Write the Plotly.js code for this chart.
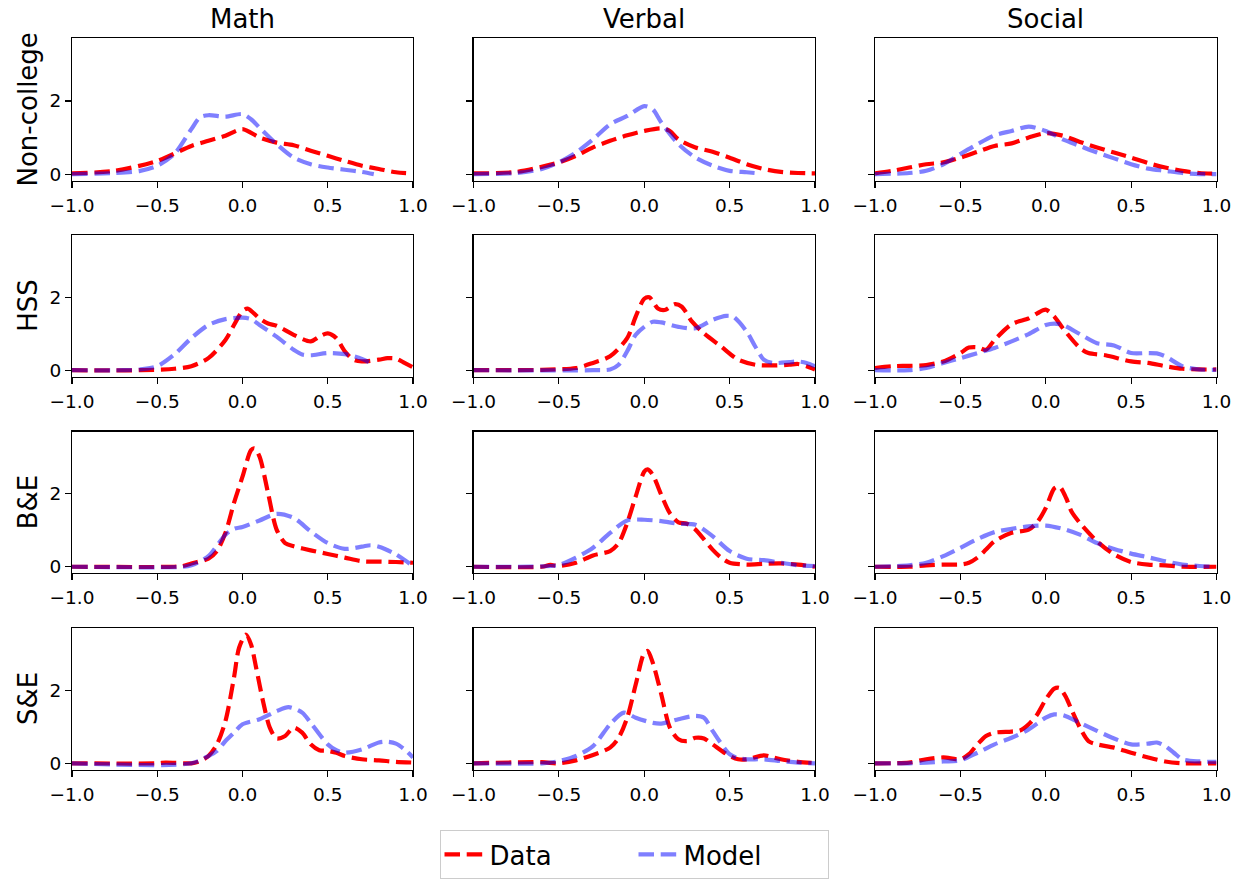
<!DOCTYPE html>
<html>
<head>
<meta charset="utf-8">
<script src="https://cdn.plot.ly/plotly-3.0.1.min.js"></script>
<style>html,body{margin:0;padding:0;background:#fff;}#chart{width:1243px;height:879px;}</style>
</head>
<body>
<div id="chart"></div>
<script>
// ---- labels ----
const columns = ['Math', 'Verbal', 'Social'];
const rows = ['Non-college', 'HSS', 'B&E', 'S&E'];
const seriesNames = ['Data', 'Model'];
const xTickVals = [-1, -0.5, 0, 0.5, 1];
const xTickText = ['−1.0', '−0.5', '0.0', '0.5', '1.0'];
const yTickVals = [0, 2];
const yTickText = ['0', '2'];

// ---- density curves, [x, density] pairs ----
const nonCollegeMathData = [[-1,0.02],[-0.75,0.09],[-0.5,0.36],[-0.3,0.77],[-0.2,0.91],[-0.1,1.05],[0,1.23],[0.1,1.0],[0.2,0.86],[0.3,0.79],[0.4,0.64],[0.5,0.5],[0.6,0.36],[0.7,0.23],[0.8,0.14],[0.9,0.05],[1,0.02]];
const nonCollegeMathModel = [[-1,0],[-0.75,0.03],[-0.6,0.09],[-0.5,0.23],[-0.4,0.55],[-0.3,1.23],[-0.25,1.55],[-0.2,1.61],[-0.1,1.57],[0,1.64],[0.05,1.5],[0.1,1.27],[0.2,0.82],[0.3,0.45],[0.4,0.27],[0.5,0.18],[0.6,0.12],[0.7,0.06],[0.77,0]];
const nonCollegeVerbalData = [[-1,0.02],[-0.75,0.06],[-0.5,0.32],[-0.4,0.5],[-0.3,0.73],[-0.2,0.91],[-0.1,1.06],[0,1.18],[0.1,1.25],[0.15,1.18],[0.2,0.95],[0.3,0.73],[0.4,0.61],[0.5,0.45],[0.6,0.27],[0.7,0.14],[0.8,0.06],[0.9,0.03],[1,0.02]];
const nonCollegeVerbalModel = [[-1,0],[-0.75,0.03],[-0.6,0.14],[-0.5,0.32],[-0.4,0.59],[-0.3,0.95],[-0.2,1.36],[-0.1,1.59],[0,1.86],[0.05,1.77],[0.1,1.41],[0.2,0.82],[0.3,0.45],[0.4,0.23],[0.5,0.09],[0.6,0.05],[0.67,0.02]];
const nonCollegeSocialData = [[-1,0.02],[-0.9,0.09],[-0.8,0.18],[-0.7,0.27],[-0.6,0.32],[-0.5,0.45],[-0.4,0.61],[-0.3,0.77],[-0.2,0.84],[-0.1,1.0],[0,1.12],[0.1,1.05],[0.2,0.88],[0.3,0.73],[0.4,0.59],[0.5,0.45],[0.6,0.3],[0.7,0.18],[0.8,0.09],[0.9,0.03],[1,0.01]];
const nonCollegeSocialModel = [[-1,0],[-0.8,0.03],[-0.7,0.09],[-0.6,0.27],[-0.5,0.55],[-0.4,0.82],[-0.3,1.06],[-0.2,1.18],[-0.1,1.3],[0,1.18],[0.1,0.95],[0.2,0.77],[0.3,0.59],[0.4,0.43],[0.5,0.27],[0.6,0.15],[0.7,0.09],[0.8,0.03],[0.9,0],[1,0]];

const hssMathData = [[-1,0],[-0.6,0],[-0.4,0.04],[-0.3,0.11],[-0.2,0.33],[-0.1,0.83],[-0.05,1.24],[0,1.62],[0.03,1.69],[0.1,1.42],[0.15,1.28],[0.2,1.22],[0.3,0.97],[0.4,0.79],[0.45,0.92],[0.5,1.01],[0.55,0.88],[0.6,0.52],[0.65,0.29],[0.7,0.24],[0.8,0.29],[0.85,0.33],[0.9,0.32],[0.95,0.2],[1,0.08]];
const hssMathModel = [[-1,0],[-0.7,0],[-0.6,0.02],[-0.5,0.11],[-0.4,0.43],[-0.3,0.88],[-0.2,1.24],[-0.1,1.4],[0,1.44],[0.05,1.4],[0.1,1.24],[0.2,0.92],[0.3,0.56],[0.35,0.43],[0.4,0.41],[0.5,0.47],[0.6,0.44],[0.7,0.31],[0.77,0.15]];
const hssVerbalData = [[-1,0],[-0.6,0.01],[-0.4,0.06],[-0.3,0.2],[-0.2,0.38],[-0.1,0.88],[-0.05,1.47],[0,1.96],[0.03,2.0],[0.08,1.69],[0.12,1.65],[0.18,1.81],[0.22,1.74],[0.28,1.33],[0.35,1.01],[0.45,0.65],[0.55,0.29],[0.65,0.15],[0.75,0.13],[0.85,0.15],[0.9,0.17],[0.95,0.11],[1,0.02]];
const hssVerbalModel = [[-1,0],[-0.3,0],[-0.2,0.02],[-0.15,0.15],[-0.1,0.52],[-0.05,0.97],[0,1.19],[0.05,1.33],[0.1,1.31],[0.2,1.19],[0.3,1.15],[0.4,1.38],[0.48,1.49],[0.52,1.47],[0.6,1.06],[0.65,0.65],[0.7,0.29],[0.75,0.2],[0.85,0.22],[0.9,0.24],[0.95,0.2],[1,0.11]];
const hssSocialData = [[-1,0.06],[-0.9,0.11],[-0.8,0.12],[-0.7,0.14],[-0.6,0.24],[-0.5,0.47],[-0.45,0.62],[-0.4,0.63],[-0.35,0.56],[-0.3,0.83],[-0.2,1.26],[-0.1,1.42],[-0.05,1.56],[0,1.66],[0.05,1.47],[0.1,1.15],[0.2,0.61],[0.25,0.47],[0.35,0.41],[0.5,0.24],[0.6,0.2],[0.7,0.11],[0.8,0.04],[0.9,0.02],[1,0.02]];
const hssSocialModel = [[-1,0],[-0.8,0],[-0.7,0.06],[-0.6,0.2],[-0.5,0.33],[-0.4,0.47],[-0.3,0.61],[-0.2,0.79],[-0.1,0.99],[0,1.24],[0.05,1.28],[0.1,1.24],[0.2,0.99],[0.3,0.74],[0.4,0.68],[0.5,0.47],[0.6,0.47],[0.65,0.46],[0.7,0.38],[0.8,0.11],[0.9,0.02],[1,0.01]];

const beMathData = [[-1,0],[-0.4,0],[-0.35,0.02],[-0.3,0.09],[-0.2,0.22],[-0.15,0.43],[-0.1,0.93],[-0.05,1.75],[0,2.47],[0.05,3.2],[0.07,3.25],[0.1,3.02],[0.15,2.02],[0.2,1.02],[0.25,0.65],[0.3,0.56],[0.4,0.45],[0.5,0.35],[0.6,0.25],[0.7,0.15],[0.8,0.14],[0.9,0.13],[1,0.11]];
const beMathModel = [[-1,0],[-0.35,0],[-0.3,0.04],[-0.2,0.29],[-0.1,0.88],[-0.05,1.04],[0,1.09],[0.1,1.27],[0.2,1.45],[0.3,1.34],[0.4,0.97],[0.5,0.65],[0.6,0.49],[0.7,0.55],[0.75,0.59],[0.8,0.55],[0.9,0.34],[1,0.02]];
const beVerbalData = [[-1,0],[-0.6,0],[-0.55,0.05],[-0.5,0.02],[-0.4,0.11],[-0.3,0.31],[-0.2,0.43],[-0.15,0.65],[-0.1,1.2],[-0.05,1.93],[0,2.61],[0.02,2.67],[0.05,2.52],[0.1,1.97],[0.15,1.47],[0.2,1.22],[0.25,1.18],[0.3,1.02],[0.35,0.75],[0.4,0.47],[0.45,0.25],[0.5,0.11],[0.6,0.06],[0.7,0.08],[0.8,0.09],[0.9,0.06],[1,0]];
const beVerbalModel = [[-1,0],[-0.6,0.01],[-0.5,0.05],[-0.4,0.25],[-0.3,0.52],[-0.2,0.93],[-0.1,1.27],[0,1.29],[0.1,1.25],[0.2,1.18],[0.3,1.15],[0.4,0.84],[0.5,0.43],[0.6,0.22],[0.7,0.18],[0.8,0.11],[0.9,0.04],[1,0.02]];
const beSocialData = [[-1,0],[-0.8,0],[-0.7,0.04],[-0.6,0.06],[-0.5,0.06],[-0.45,0.11],[-0.4,0.25],[-0.35,0.47],[-0.3,0.7],[-0.2,0.93],[-0.1,1.02],[-0.05,1.22],[0,1.61],[0.05,2.15],[0.08,2.2],[0.12,1.88],[0.15,1.52],[0.2,1.2],[0.3,0.7],[0.4,0.34],[0.5,0.13],[0.6,0.06],[0.7,0.04],[0.8,0],[1,0]];
const beSocialModel = [[-1,0],[-0.8,0.04],[-0.7,0.11],[-0.6,0.29],[-0.5,0.52],[-0.4,0.76],[-0.3,0.95],[-0.2,1.04],[-0.1,1.11],[0,1.13],[0.1,1.04],[0.2,0.88],[0.3,0.65],[0.4,0.49],[0.5,0.36],[0.6,0.26],[0.7,0.15],[0.8,0.06],[0.9,0.02],[1,0]];

const seMathData = [[-1,0],[-0.5,0],[-0.45,0.02],[-0.3,0],[-0.25,0.06],[-0.2,0.2],[-0.15,0.52],[-0.1,1.16],[-0.05,2.35],[-0.02,3.17],[0.02,3.53],[0.05,3.26],[0.08,2.62],[0.12,1.71],[0.16,0.98],[0.2,0.68],[0.25,0.75],[0.3,0.98],[0.35,0.84],[0.4,0.52],[0.45,0.36],[0.5,0.34],[0.55,0.29],[0.6,0.2],[0.7,0.11],[0.8,0.08],[0.9,0.04],[1,0.02]];
const seMathModel = [[-1,0],[-0.3,0],[-0.2,0.2],[-0.15,0.34],[-0.1,0.61],[-0.05,0.84],[0,1.07],[0.1,1.21],[0.2,1.43],[0.27,1.54],[0.35,1.39],[0.4,1.11],[0.5,0.52],[0.55,0.36],[0.6,0.29],[0.7,0.38],[0.8,0.57],[0.85,0.59],[0.9,0.54],[0.95,0.38],[1,0.16]];
const seVerbalData = [[-1,0],[-0.6,0.03],[-0.5,0],[-0.4,0.08],[-0.3,0.23],[-0.2,0.43],[-0.15,0.7],[-0.1,1.25],[-0.05,2.16],[0,3.03],[0.02,3.08],[0.05,2.76],[0.1,1.89],[0.15,0.98],[0.2,0.66],[0.25,0.61],[0.3,0.7],[0.35,0.68],[0.4,0.52],[0.5,0.2],[0.55,0.11],[0.6,0.11],[0.7,0.22],[0.75,0.17],[0.8,0.11],[0.9,0.04],[1,0.01]];
const seVerbalModel = [[-1,0],[-0.6,0],[-0.5,0.06],[-0.4,0.2],[-0.3,0.47],[-0.2,1.07],[-0.12,1.39],[-0.05,1.25],[0.05,1.11],[0.1,1.09],[0.2,1.21],[0.3,1.3],[0.35,1.25],[0.4,0.89],[0.5,0.25],[0.55,0.14],[0.6,0.11],[0.7,0.11],[0.8,0.06],[0.9,0.02],[1,0]];
const seSocialData = [[-1,0],[-0.8,0.02],[-0.7,0.11],[-0.6,0.16],[-0.5,0.11],[-0.45,0.25],[-0.4,0.52],[-0.35,0.75],[-0.3,0.84],[-0.2,0.87],[-0.15,0.9],[-0.1,1.07],[-0.05,1.34],[0,1.75],[0.05,2.05],[0.08,2.07],[0.12,1.8],[0.15,1.48],[0.2,0.98],[0.25,0.61],[0.3,0.52],[0.4,0.43],[0.5,0.29],[0.6,0.16],[0.7,0.05],[0.8,0],[1,0]];
const seSocialModel = [[-1,0],[-0.8,0],[-0.7,0.02],[-0.6,0.05],[-0.5,0.08],[-0.4,0.29],[-0.3,0.52],[-0.2,0.7],[-0.1,0.93],[0,1.25],[0.05,1.34],[0.1,1.32],[0.2,1.11],[0.3,0.89],[0.4,0.68],[0.5,0.52],[0.6,0.54],[0.65,0.57],[0.7,0.47],[0.75,0.29],[0.8,0.11],[0.9,0.05],[1,0.04]];

const panels = [
  [nonCollegeMathData, nonCollegeMathModel], [nonCollegeVerbalData, nonCollegeVerbalModel], [nonCollegeSocialData, nonCollegeSocialModel],
  [hssMathData, hssMathModel], [hssVerbalData, hssVerbalModel], [hssSocialData, hssSocialModel],
  [beMathData, beMathModel], [beVerbalData, beVerbalModel], [beSocialData, beSocialModel],
  [seMathData, seMathModel], [seVerbalData, seVerbalModel], [seSocialData, seSocialModel]
];

// ---- styling / layout ----
const W = 1243, H = 879;
const colLeft = [72, 473.5, 875], colRight = [413, 815, 1216.5];
const rowTop = [38.5, 235.5, 432.5, 629.5], rowBottom = [181, 377.5, 574.5, 771.5];
const seriesStyles = [
  {color: '#ff0000'},
  {color: 'rgba(0,0,255,0.5)'}
];
const FONT = 'DejaVu Sans, sans-serif';

const traces = [];
const layout = {
  width: W, height: H,
  margin: {l: 0, r: 0, t: 0, b: 0},
  paper_bgcolor: '#ffffff', plot_bgcolor: '#ffffff',
  font: {family: FONT, size: 18.5, color: '#000000'},
  showlegend: true,
  legend: {
    orientation: 'h', x: 634 / W, xanchor: 'center', y: 1 - 832 / H, yanchor: 'top',
    bordercolor: '#cccccc', borderwidth: 1, bgcolor: '#ffffff',
    font: {family: FONT, size: 26, color: '#000000'},
    entrywidth: 139, entrywidthmode: 'pixels', itemwidth: 40, tracegroupgap: 0
  },
  annotations: [],
  hovermode: false
};

panels.forEach((pair, i) => {
  const r = Math.floor(i / 3), c = i % 3, k = i + 1;
  const xa = 'x' + (k === 1 ? '' : k), ya = 'y' + (k === 1 ? '' : k);
  pair.forEach((curve, s) => {
    traces.push({
      type: 'scatter', mode: 'lines',
      x: curve.map(p => p[0]), y: curve.map(p => p[1]),
      xaxis: xa, yaxis: ya,
      name: seriesNames[s], legendgroup: seriesNames[s], showlegend: i === 0,
      line: {color: seriesStyles[s].color, width: 4.2, dash: '15.5px,6.7px', shape: 'spline', smoothing: 0.8},
      hoverinfo: 'skip'
    });
  });
  const axLine = {showline: true, mirror: true, linecolor: '#000000', linewidth: 1.1,
    ticks: 'outside', ticklen: 6, tickwidth: 1.1, tickcolor: '#000000',
    showgrid: false, zeroline: false, fixedrange: true,
    tickfont: {family: FONT, size: 18.5, color: '#000000'}};
  layout['xaxis' + (k === 1 ? '' : k)] = Object.assign({}, axLine, {
    domain: [colLeft[c] / W, colRight[c] / W], anchor: ya,
    range: [-1, 1], tickmode: 'array', tickvals: xTickVals, ticktext: xTickText,
    ticklabelstandoff: 2
  });
  layout['yaxis' + (k === 1 ? '' : k)] = Object.assign({}, axLine, {
    domain: [1 - rowBottom[r] / H, 1 - rowTop[r] / H], anchor: xa,
    range: [-0.177, 3.71], tickmode: 'array', tickvals: yTickVals, ticktext: yTickText,
    showticklabels: c === 0
  });
});

columns.forEach((name, c) => {
  layout.annotations.push({
    text: name, xref: 'paper', yref: 'paper',
    x: (colLeft[c] + colRight[c]) / 2 / W, y: 1 - 19 / H,
    xanchor: 'center', yanchor: 'middle', showarrow: false,
    font: {family: FONT, size: 26, color: '#000000'}
  });
});
rows.forEach((name, r) => {
  layout.annotations.push({
    text: name, xref: 'paper', yref: 'paper',
    x: 28 / W, y: 1 - (rowTop[r] + rowBottom[r]) / 2 / H,
    xanchor: 'center', yanchor: 'middle', textangle: -90, showarrow: false,
    font: {family: FONT, size: 26, color: '#000000'}
  });
});

Plotly.newPlot('chart', traces, layout, {displayModeBar: false, staticPlot: true});
</script>
</body>
</html>
